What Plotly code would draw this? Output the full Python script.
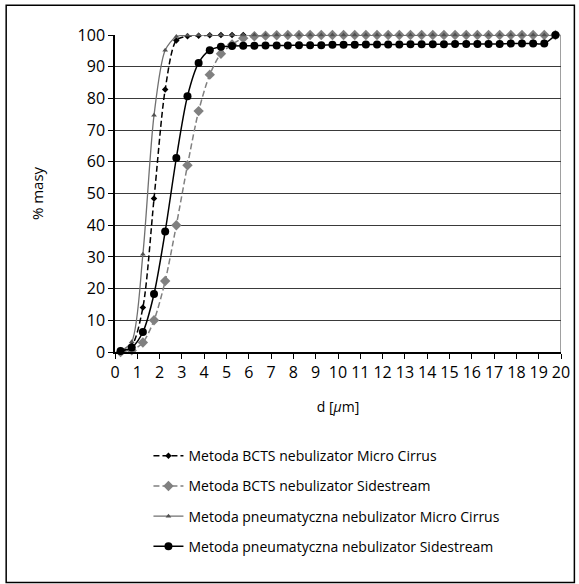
import plotly.graph_objects as go

d_um = [0.25, 0.75, 1.25, 1.75, 2.25, 2.75, 3.25, 3.75, 4.25, 4.75,
        5.25, 5.75, 6.25, 6.75, 7.25, 7.75, 8.25, 8.75, 9.25, 9.75,
        10.25, 10.75, 11.25, 11.75, 12.25, 12.75, 13.25, 13.75, 14.25, 14.75,
        15.25, 15.75, 16.25, 16.75, 17.25, 17.75, 18.25, 18.75, 19.25, 19.75]

bcts_micro = [0.3, 2.0, 14.0, 48.4, 82.8, 98.3, 99.6, 99.8, 99.9, 100.0,
              100.0, 100.0, 100.0, 100.0, 100.0, 100.0, 100.0, 100.0, 100.0, 100.0,
              100.0, 100.0, 100.0, 100.0, 100.0, 100.0, 100.0, 100.0, 100.0, 100.0,
              100.0, 100.0, 100.0, 100.0, 100.0, 100.0, 100.0, 100.0, 100.0, 100.0]

bcts_side = [0.0, 0.5, 3.0, 10.0, 22.4, 40.0, 58.9, 76.0, 87.5, 94.1,
             97.0, 99.0, 99.6, 99.8, 99.9, 100.0, 100.0, 100.0, 100.0, 100.0,
             100.0, 100.0, 100.0, 100.0, 100.0, 100.0, 100.0, 100.0, 100.0, 100.0,
             100.0, 100.0, 100.0, 100.0, 100.0, 100.0, 100.0, 100.0, 100.0, 100.0]

pneu_micro = [0.3, 3.2, 30.8, 74.7, 95.2, 99.5, 99.9, 100.0, 100.0, 100.0,
              100.0, 100.0, 100.0, 100.0, 100.0, 100.0, 100.0, 100.0, 100.0, 100.0,
              100.0, 100.0, 100.0, 100.0, 100.0, 100.0, 100.0, 100.0, 100.0, 100.0,
              100.0, 100.0, 100.0, 100.0, 100.0, 100.0, 100.0, 100.0, 100.0, 100.0]

pneu_side = [0.3, 1.4, 6.3, 18.3, 38.0, 61.2, 80.7, 91.2, 95.2, 96.3,
             96.5, 96.6, 96.6, 96.7, 96.7, 96.7, 96.8, 96.8, 96.8, 96.9,
             96.9, 96.9, 97.0, 97.0, 97.0, 97.0, 97.1, 97.1, 97.1, 97.1,
             97.2, 97.2, 97.2, 97.2, 97.2, 97.3, 97.3, 97.3, 97.3, 100.0]

names = ["Metoda BCTS nebulizator Micro Cirrus",
         "Metoda BCTS nebulizator Sidestream",
         "Metoda pneumatyczna nebulizator Micro Cirrus",
         "Metoda pneumatyczna nebulizator Sidestream"]

x_ticks = list(range(0, 21))
y_ticks = list(range(0, 101, 10))

FONT = "Open Sans, DejaVu Sans, sans-serif"

fig = go.Figure()
fig.add_trace(go.Scatter(
    x=d_um, y=bcts_micro, name=names[0], mode="lines+markers", legendgroup="a",
    line=dict(color="#000000", width=1.5, dash="6px,3px", shape="spline", smoothing=0.8),
    marker=dict(symbol="diamond", size=5, color="#000000"), cliponaxis=False))
fig.add_trace(go.Scatter(
    x=d_um, y=bcts_side, name=names[1], mode="lines+markers", legendgroup="b",
    line=dict(color="#808080", width=1.5, dash="6px,3px", shape="spline", smoothing=0.8),
    marker=dict(symbol="diamond", size=8, color="#808080"), cliponaxis=False))
fig.add_trace(go.Scatter(
    x=d_um, y=pneu_micro, name=names[2], mode="lines+markers", legendgroup="c",
    line=dict(color="#707070", width=1.3, shape="spline", smoothing=0.8),
    marker=dict(symbol="triangle-up", size=5, color="#505050"), cliponaxis=False))
fig.add_trace(go.Scatter(
    x=d_um, y=pneu_side, name=names[3], mode="lines+markers", legendgroup="d",
    line=dict(color="#000000", width=1.5, shape="spline", smoothing=0.8),
    marker=dict(symbol="circle", size=8, color="#000000"), cliponaxis=False))

# right border of plot area (gray)
fig.add_shape(type="line", xref="x", yref="y", x0=20, x1=20, y0=0, y1=100,
              line=dict(color="#808080", width=1.5), layer="below")
# outer chart border
fig.add_shape(type="rect", xref="paper", yref="paper",
              x0=-0.244, x1=1.03, y0=-0.727, y1=1.094,
              line=dict(color="#000000", width=1.5))

fig.update_layout(
    width=579, height=584,
    margin=dict(l=115, r=18, t=35, b=232, autoexpand=False),
    paper_bgcolor="white", plot_bgcolor="white",
    font=dict(family=FONT, color="#000000"),
    showlegend=True,
    legend=dict(x=0.075, y=-0.278, xanchor="left", yanchor="top",
                font=dict(size=14, family=FONT), itemwidth=30,
                tracegroupgap=9, bgcolor="rgba(0,0,0,0)"),
    xaxis=dict(range=[0, 20], tickvals=x_ticks, ticktext=[str(v) for v in x_ticks],
               showgrid=False, zeroline=False, showline=True, linecolor="#000000",
               linewidth=1.5, ticks="outside", ticklen=5, tickcolor="#000000",
               tickfont=dict(size=16), title=dict(text="d [<i>μ</i>m]", font=dict(size=14), standoff=20)),
    yaxis=dict(range=[0, 100], tickvals=y_ticks, showgrid=True, gridcolor="#3a3a3a",
               gridwidth=1, zeroline=False, showline=True, linecolor="#000000",
               linewidth=1.5, ticks="outside", ticklen=5, tickcolor="#000000",
               tickfont=dict(size=16), title=dict(text="% masy", font=dict(size=15), standoff=30)),
)

fig.write_html("out.html", config={"displayModeBar": False},
               post_script="document.body.style.margin='0px';")
